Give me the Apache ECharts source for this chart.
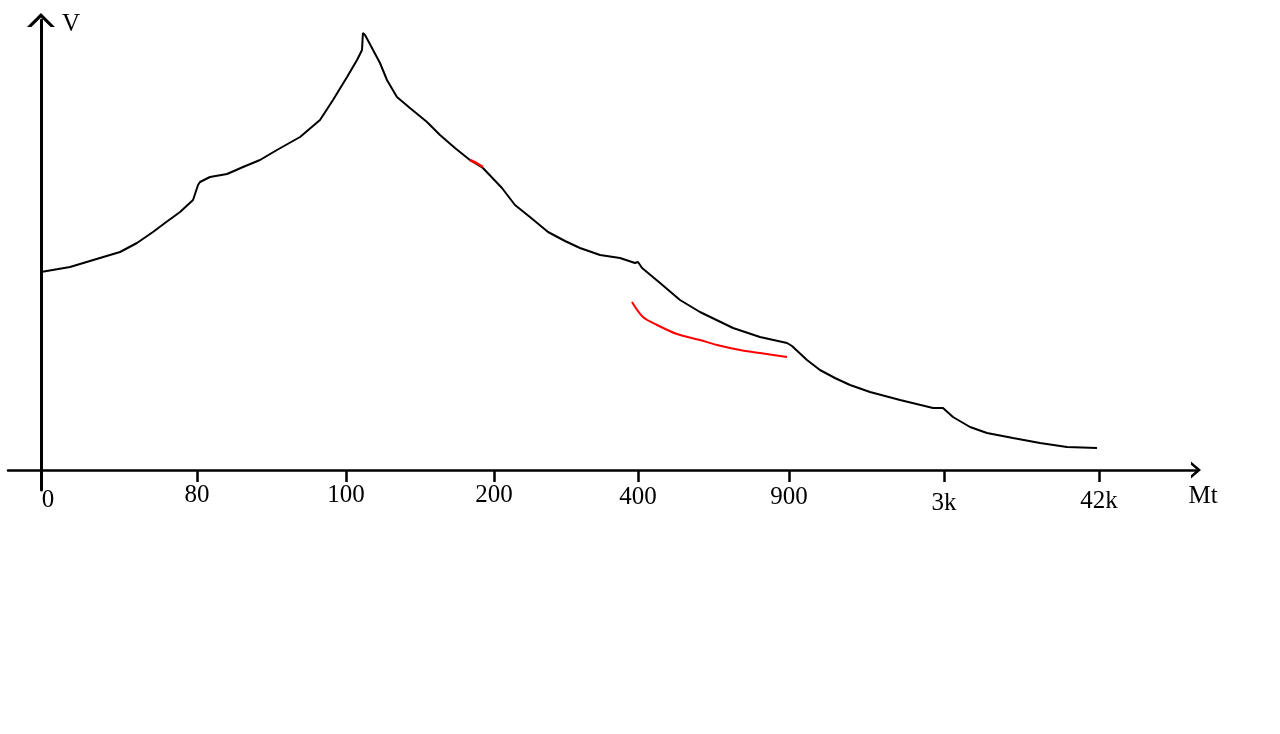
<!DOCTYPE html>
<html>
<head>
<meta charset="utf-8">
<script src="https://cdn.jsdelivr.net/npm/echarts@6/dist/echarts.min.js"></script>
<style>
  html, body { margin: 0; padding: 0; background: #ffffff; }
  #chart { width: 1280px; height: 734px; }
</style>
</head>
<body>
<div id="chart"></div>
<script>
// Tick labels on the x axis and where they sit (hand-spaced, in x units)
const tickLabels = ['0', '80', '100', '200', '400', '900', '3k', '42k'];
const tickPositions = [0, 1.032, 2.018, 2.997, 3.950, 4.949, 5.975, 7.0];

// Main (black) curve: [x position, V]
const mainCurve = [
  [0, 219], [0, 198], [0.192, 203], [0.390, 212], [0.523, 218], [0.635, 227],
  [0.741, 238], [0.820, 247], [0.920, 258], [1.006, 270], [1.039, 285],
  [1.052, 288], [1.118, 293], [1.231, 296], [1.337, 303], [1.449, 310],
  [1.561, 320], [1.714, 333], [1.846, 350], [1.932, 370], [2.025, 393],
  [2.091, 410], [2.124, 420], [2.130, 437], [2.144, 435], [2.243, 407],
  [2.289, 390], [2.355, 373], [2.441, 362], [2.554, 348], [2.640, 335],
  [2.739, 322], [2.838, 310], [2.924, 302], [3.050, 282], [3.136, 265],
  [3.235, 253], [3.355, 238], [3.467, 229], [3.566, 222], [3.699, 215],
  [3.831, 212], [3.930, 207], [3.950, 208], [3.977, 202], [4.096, 187],
  [4.228, 170], [4.360, 158], [4.579, 142], [4.757, 133], [4.936, 127],
  [4.969, 124], [5.068, 110], [5.154, 100], [5.253, 92], [5.353, 85],
  [5.485, 78], [5.684, 70], [5.902, 62], [5.968, 62], [6.034, 53],
  [6.147, 43], [6.259, 37], [6.431, 32], [6.610, 27], [6.788, 23],
  [6.987, 22]
];

// Short red mark on the descending slope
const redMark = [[2.838, 310], [2.881, 307], [2.924, 303]];

// Red lower curve between 400 and 900
const redCurve = [
  [3.910, 168], [3.983, 153], [4.076, 145], [4.208, 136], [4.360, 130],
  [4.473, 125], [4.625, 120], [4.757, 117], [4.936, 113]
];

const chart = echarts.init(document.getElementById('chart'), null, { renderer: 'canvas' });

const serif = "'Liberation Serif', 'DejaVu Serif', serif";
const chevronY = 'path://M0,14 L14,0 L28,14 L23.6,14 L14,4.4 L4.4,14 Z';
const chevronX = 'path://M0,10 L8.5,0 L17,10 L13.7,10 L8.5,3.9 L3.3,10 Z';

// per-label small hand-placement nudges (rich style names)
const labelStyleKey = ['a', 'n', 'n', 'n', 'd', 'd', 'b', 'c'];

chart.setOption({
  animation: false,
  backgroundColor: '#ffffff',
  grid: { left: 8, right: 84, top: 20, bottom: 244, containLabel: false },
  xAxis: {
    type: 'value',
    min: -0.2183,
    max: 7.642,
    name: 'Mt',
    nameLocation: 'end',
    nameGap: 7,
    nameMoveOverlap: false,
    nameTextStyle: {
      fontFamily: serif, fontSize: 25, color: '#000',
      align: 'center', verticalAlign: 'top', padding: [14, 0, 0, 0]
    },
    axisLine: {
      onZero: true,
      lineStyle: { color: '#000', width: 2.5 },
      symbol: ['none', chevronX],
      symbolSize: [17, 10]
    },
    axisTick: {
      show: true, inside: false, length: 12,
      customValues: tickPositions.slice(1),
      lineStyle: { color: '#000', width: 2.5 }
    },
    axisLabel: {
      show: true,
      customValues: tickPositions,
      margin: -7,
      fontFamily: serif, fontSize: 25, color: '#000',
      formatter: function (v) {
        let best = 0;
        for (let i = 1; i < tickPositions.length; i++) {
          if (Math.abs(tickPositions[i] - v) < Math.abs(tickPositions[best] - v)) best = i;
        }
        return '{' + labelStyleKey[best] + '|' + tickLabels[best] + '}';
      },
      rich: {
        n: { fontFamily: serif, fontSize: 25, color: '#000' },
        a: { fontFamily: serif, fontSize: 25, color: '#000', padding: [5, 0, 0, 14] },
        b: { fontFamily: serif, fontSize: 25, color: '#000', padding: [8, 0, 0, 0] },
        c: { fontFamily: serif, fontSize: 25, color: '#000', padding: [6, 0, 0, 0] },
        d: { fontFamily: serif, fontSize: 25, color: '#000', padding: [2, 0, 0, 0] }
      }
    },
    splitLine: { show: false }
  },
  yAxis: {
    type: 'value',
    min: -20,
    max: 450,
    name: 'V',
    nameLocation: 'end',
    nameGap: -4,
    nameMoveOverlap: false,
    nameTextStyle: {
      fontFamily: serif, fontSize: 25, color: '#000',
      align: 'left', verticalAlign: 'middle', padding: [0, 0, 0, 21]
    },
    axisLine: {
      show: true,
      onZero: true,
      lineStyle: { color: '#000', width: 3 },
      symbol: ['none', chevronY],
      symbolSize: [28, 14]
    },
    axisTick: { show: false },
    axisLabel: { show: false },
    splitLine: { show: false }
  },
  series: [
    {
      type: 'line', data: mainCurve, showSymbol: false, smooth: false,
      lineStyle: { color: '#000', width: 2 }, z: 3
    },
    {
      type: 'line', data: redMark, showSymbol: false, smooth: false,
      lineStyle: { color: '#ff0000', width: 2.5 }, z: 4
    },
    {
      type: 'line', data: redCurve, showSymbol: false, smooth: 0.3,
      lineStyle: { color: '#ff0000', width: 2 }, z: 4
    }
  ]
});
</script>
</body>
</html>
